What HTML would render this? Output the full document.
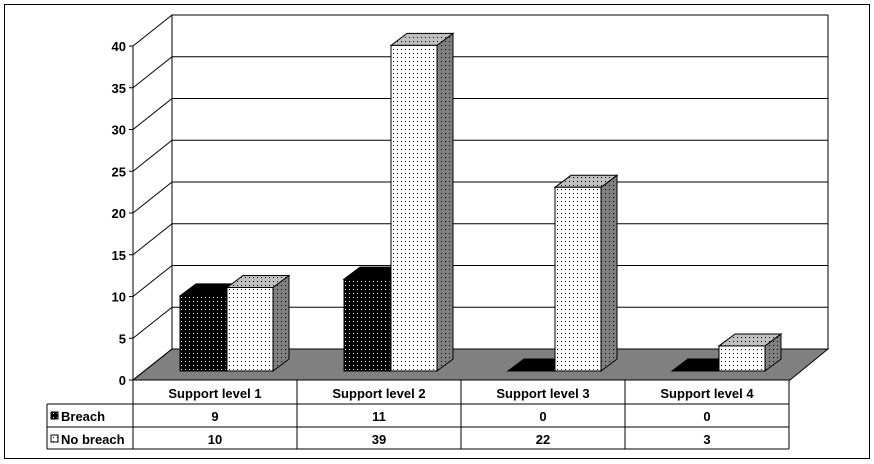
<!DOCTYPE html>
<html><head><style>body{margin:0;background:#fff}svg{display:block;font-family:"Liberation Sans",Arial,sans-serif}</style></head>
<body>
<svg id="c" width="874" height="464">
<defs>
<pattern id="pb" width="4" height="4" patternUnits="userSpaceOnUse"><rect width="4" height="4" fill="#000"/><rect x="1" y="1" width="1" height="1" fill="#fff"/></pattern>
<pattern id="pw" width="4" height="4" patternUnits="userSpaceOnUse"><rect width="4" height="4" fill="#fff"/><rect x="1" y="1" width="1" height="1" fill="#000"/></pattern>
<pattern id="pg" width="4" height="4" patternUnits="userSpaceOnUse"><rect width="4" height="4" fill="#808080"/><rect x="1" y="1" width="1" height="1" fill="#000"/></pattern>
<pattern id="pl" width="4" height="4" patternUnits="userSpaceOnUse"><rect width="4" height="4" fill="#c0c0c0"/><rect x="1" y="1" width="1" height="1" fill="#000"/></pattern>
</defs>
<rect x="4.5" y="4.5" width="865" height="454" fill="#fff" stroke="#000"/>
<g id="g"></g>
</svg>
<script>
const categories=["Support level 1","Support level 2","Support level 3","Support level 4"];
const seriesNames=["Breach","No breach"];
const breach=[9,11,0,0];
const noBreach=[10,39,22,3];
const ticks=[0,5,10,15,20,25,30,35,40];
const NS="http://www.w3.org/2000/svg";
const g=document.getElementById('g');
function mk(t,a,p){const e=document.createElementNS(NS,t);for(const k in a)e.setAttribute(k,a[k]);(p||g).appendChild(e);return e;}
const X0=133,Y0=380,DX=39,DY=31,CW=164,PX=8.35;
const y=v=>Y0-v*PX;
// back wall
let w=mk('polygon',{points:`${X0+DX},${y(40)-DY} 828,${y(40)-DY} 828,${Y0-DY} ${X0+DX},${Y0-DY}`,fill:'#fff',stroke:'#000'});


let f=mk('polygon',{points:`${X0},${Y0} 790,${Y0} 828,${Y0-DY} ${X0+DX},${Y0-DY}`,fill:'#808080',stroke:'#000'});


ticks.forEach(t=>{
  const yy=y(t);
  if(t>0){const l=mk('line',{x1:X0+DX,y1:yy-DY,x2:828,y2:yy-DY,stroke:'#000'});
  
  }
  mk('line',{x1:X0,y1:yy,x2:X0+DX,y2:yy-DY,stroke:'#000'});
  mk('line',{x1:X0-4,y1:yy,x2:X0,y2:yy,stroke:'#000'});
  const tx=mk('text',{x:X0-7,y:yy+5,'text-anchor':'end','font-size':13,'font-weight':'bold'});
  tx.textContent=t;
  
  
});
mk('line',{x1:X0,y1:y(40),x2:X0,y2:Y0,stroke:'#000'});
mk('line',{x1:X0+DX,y1:y(40)-DY,x2:X0+DX,y2:Y0-DY,stroke:'#000'});
// bars
const BY=371,BW=46,SDX=16,SDY=12;
function bar(x,v,front,side,top,name){
  const t=BY-v*PX;
  const grp=mk('g',{});
  
  
  mk('polygon',{points:`${x+BW},${BY} ${x+BW+SDX},${BY-SDY} ${x+BW+SDX},${t-SDY} ${x+BW},${t}`,fill:side,stroke:'#000'},grp);
  mk('polygon',{points:`${x},${t} ${x+SDX},${t-SDY} ${x+BW+SDX},${t-SDY} ${x+BW},${t}`,fill:top,stroke:'#000'},grp);
  if(v>0)mk('rect',{x:x,y:t,width:BW,height:BY-t,fill:front,stroke:'#000'},grp);
}
categories.forEach((c,i)=>{
  const cx=X0+i*CW+47;
  bar(cx,breach[i],'url(#pb)','#000','#000','bar-breach-'+(i+1));
  bar(cx+BW+1,noBreach[i],'url(#pw)','url(#pg)','url(#pl)','bar-no-breach-'+(i+1));
});
// data table
const T=mk('g',{});


const rows=[380,404,427,449],L=47,R=X0+4*CW;
mk('line',{x1:X0,y1:380,x2:R,y2:380,stroke:'#000'},T);
[404,427,449].forEach(r=>mk('line',{x1:L,y1:r,x2:R,y2:r,stroke:'#000'},T));
mk('line',{x1:L,y1:404,x2:L,y2:449,stroke:'#000'},T);
for(let i=0;i<=4;i++)mk('line',{x1:X0+i*CW,y1:380,x2:X0+i*CW,y2:449,stroke:'#000'},T);
categories.forEach((c,i)=>{
  const cx=X0+i*CW+CW/2;
  const a=mk('text',{x:cx,y:398,'text-anchor':'middle','font-size':13,'font-weight':'bold'},T);a.textContent=c;
  
  
  const b=mk('text',{x:cx,y:421,'text-anchor':'middle','font-size':13,'font-weight':'bold'},T);b.textContent=breach[i];
  
  
  const d=mk('text',{x:cx,y:444,'text-anchor':'middle','font-size':13,'font-weight':'bold'},T);d.textContent=noBreach[i];
  
  
});
seriesNames.forEach((s,j)=>{
  const yy=rows[1]+j*23;
  const k=mk('rect',{x:51,y:yy+8,width:7,height:7,fill:j?'url(#pw)':'url(#pb)',stroke:'#000'},T);
  
  
  const t=mk('text',{x:61,y:yy+17,'font-size':13,'font-weight':'bold'},T);t.textContent=s;
  
  
});
</script>
</body></html>
